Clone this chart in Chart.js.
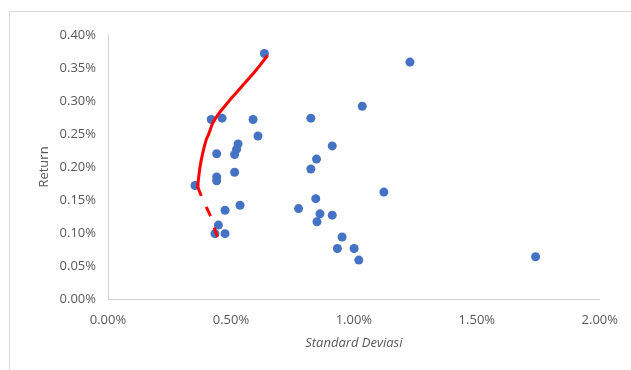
<!DOCTYPE html>
<html lang="id">
<head>
  <meta charset="UTF-8">
  <title>Portofolio Efisien</title>
  <script src="https://cdn.jsdelivr.net/npm/chart.js"></script>
  <style>
    body {
      margin: 0;
      background: white;
      overflow: hidden;
    }
    .wrap {
      position: relative;
      width: 631px;
      height: 370px;
    }
    .bingkai {
      position: absolute;
      left: 9px;
      top: 11px;
      width: 700px;
      height: 400px;
      border: 1px solid #d9d9d9;
      pointer-events: none;
    }
  </style>
</head>
<body>

<div class="wrap">
  <canvas id="chartFrontier" width="631" height="370"></canvas>
  <div class="bingkai"></div>
</div>

<script>
  // Saham individual (dalam persen)
  const stdevSaham = [0.636, 0.420, 0.464, 0.590, 0.610, 0.825, 0.442, 0.529, 0.523, 0.515,
                      0.515, 0.848, 0.825, 0.442, 0.442, 0.354, 1.228, 1.034, 0.912, 0.476,
                      0.537, 0.449, 0.435, 0.476, 0.775, 0.845, 0.862, 0.850, 1.122, 0.912,
                      0.952, 0.933, 1.001, 1.020, 1.739];
  const returnSaham = [0.372, 0.272, 0.274, 0.272, 0.247, 0.274, 0.220, 0.235, 0.227, 0.219,
                       0.192, 0.212, 0.197, 0.185, 0.179, 0.172, 0.359, 0.292, 0.232, 0.1345,
                       0.142, 0.112, 0.099, 0.099, 0.137, 0.152, 0.129, 0.117, 0.162, 0.127,
                       0.094, 0.0765, 0.0765, 0.059, 0.064];

  // Efficient frontier (garis merah)
  const stdevEfisien = [0.3647, 0.3675, 0.3744, 0.385, 0.399, 0.409, 0.4256, 0.446, 0.473, 0.5069, 0.5543, 0.602, 0.6467];
  const returnEfisien = [0.1702, 0.1803, 0.2005, 0.2207, 0.2408, 0.2494, 0.266, 0.2786, 0.2912, 0.3063, 0.3265, 0.3466, 0.3678];
  const stdevTidakEfisien = [0.3647, 0.378, 0.399, 0.419, 0.4325, 0.446];
  const returnTidakEfisien = [0.1702, 0.1576, 0.140, 0.124, 0.1073, 0.0937];

  const toPoints = (xs, ys) => xs.map((x, i) => ({ x, y: ys[i] }));
  const persen = v => Number(v).toFixed(2) + "%";

  const fontDasar = { family: "'Open Sans', sans-serif", size: 13 };
  const warnaTeks = "#595959";

  new Chart(document.getElementById("chartFrontier"), {
    type: "scatter",
    data: {
      datasets: [
        {
          label: "Frontier efisien",
          data: toPoints(stdevEfisien, returnEfisien),
          showLine: true,
          borderColor: "#ff0000",
          borderWidth: 3,
          tension: 0.3,
          pointRadius: 0,
          borderCapStyle: "round"
        },
        {
          label: "Frontier tidak efisien",
          data: toPoints(stdevTidakEfisien, returnTidakEfisien),
          showLine: true,
          borderColor: "#ff0000",
          borderWidth: 3,
          borderDash: [10, 12],
          tension: 0.2,
          pointRadius: 0
        },
        {
          label: "Saham",
          data: toPoints(stdevSaham, returnSaham),
          backgroundColor: "#4472c4",
          borderColor: "#4472c4",
          borderWidth: 0,
          pointRadius: 4.5
        }
      ]
    },
    options: {
      responsive: false,
      animation: false,
      layout: { padding: { top: 35, right: 30, left: 0, bottom: 0 } },
      plugins: {
        legend: { display: false },
        tooltip: { enabled: false }
      },
      scales: {
        x: {
          min: 0,
          max: 2,
          grid: { display: false, drawTicks: false },
          border: { display: true, color: "#d0d0d0", width: 1 },
          ticks: {
            stepSize: 0.5,
            padding: 13,
            color: warnaTeks,
            font: fontDasar,
            callback: v => persen(v)
          },
          title: {
            display: true,
            text: "Standard Deviasi",
            color: warnaTeks,
            font: { ...fontDasar, style: "italic" },
            padding: { top: 0, bottom: 19 }
          },
          afterFit: s => { s.height = 71; }
        },
        y: {
          min: 0,
          max: 0.4,
          grid: { display: false, drawTicks: false },
          border: { display: true, color: "#d0d0d0", width: 1 },
          ticks: {
            stepSize: 0.05,
            padding: 12,
            color: warnaTeks,
            font: fontDasar,
            callback: v => persen(v)
          },
          title: {
            display: true,
            text: "Return",
            color: warnaTeks,
            font: fontDasar,
            padding: { top: 36, bottom: 0 }
          },
          afterFit: s => { s.width = 108; }
        }
      }
    }
  });
</script>

</body>
</html>
